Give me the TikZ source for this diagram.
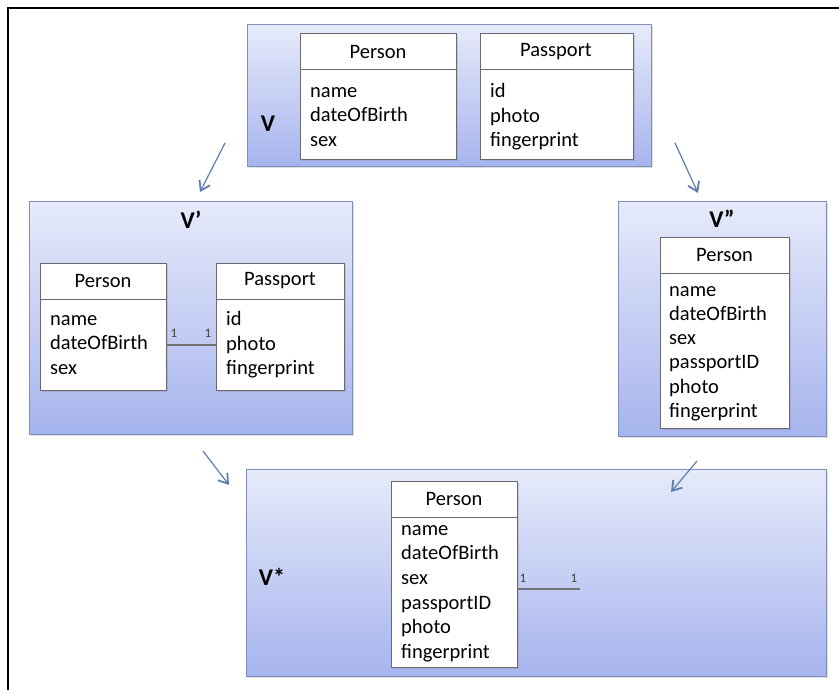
\documentclass[tikz,border=0pt]{standalone}
\usepackage{fontspec}
\setmainfont{Carlito}
\usetikzlibrary{arrows.meta,shadows}
\definecolor{pkgtop}{RGB}{230,234,250}
\definecolor{pkgbot}{RGB}{166,180,238}
\definecolor{pkgborder}{RGB}{128,142,188}
\definecolor{clsborder}{RGB}{105,105,110}
\definecolor{arrowcol}{RGB}{95,125,175}
\begin{document}
\begin{tikzpicture}[x=1pt,y=-1pt,
  pkg/.style={draw=pkgborder, line width=1.2pt, top color=pkgtop, bottom color=pkgbot,
    anchor=north west, inner sep=0pt,
    drop shadow={shadow xshift=1.5pt, shadow yshift=-1.5pt, opacity=0.25}},
  cls/.style={draw=clsborder, fill=white, line width=1pt, anchor=north west, inner sep=0pt,
    drop shadow={shadow xshift=1.2pt, shadow yshift=-1.2pt, opacity=0.25}},
  divider/.style={draw=clsborder, line width=1pt},
  clsname/.style={font=\fontsize{20.5}{24}\selectfont, inner sep=0pt},
  attrs/.style={font=\fontsize{20.5}{24.5}\selectfont, align=left, anchor=west, inner sep=0pt},
  lbl/.style={font=\fontsize{24}{27}\selectfont\bfseries, inner sep=0pt},
  mult/.style={font=\fontsize{13}{14}\selectfont, text=black!75, inner sep=0pt},
  assoc/.style={draw=black!55, line width=1.2pt},
  flow/.style={draw=arrowcol, line width=1.2pt, -{Straight Barb[length=9pt,width=12pt,line width=1.8pt]}}
]
\useasboundingbox (0,0) rectangle (839,690);
\draw[line width=1.6pt] (8,690) -- (8,8) -- (839,8);

% ---------- V ----------
\node[pkg, minimum width=404pt, minimum height=142pt] (V) at (247,24) {};
\node[lbl] (Vl) at (268,124) {V};
\node[cls, minimum width=156pt, minimum height=126pt] (VP) at (300,33) {};
\draw[divider] (300,70) -- (456,70);
\node[clsname] (VPn) at (378,52) {Person};
\node[attrs] (VPa) at (310,117) {name\\dateOfBirth\\sex};
\node[cls, minimum width=153pt, minimum height=126pt] (VS) at (480,33) {};
\draw[divider] (480,70) -- (633,70);
\node[clsname] (VSn) at (556,52) {Passport};
\node[attrs] (VSa) at (490,117) {id\\photo\\fingerprint};

% ---------- V' ----------
\node[pkg, minimum width=323pt, minimum height=233pt] (V1) at (29,201) {};
\node[lbl] (V1l) at (191,220) {V’};
\node[cls, minimum width=126pt, minimum height=127pt] (P1) at (40,263) {};
\draw[divider] (40,299) -- (166,299);
\node[clsname] (P1n) at (103,281) {Person};
\node[attrs] (P1a) at (50,345) {name\\dateOfBirth\\sex};
\node[cls, minimum width=128pt, minimum height=127pt] (S1) at (216,263) {};
\draw[divider] (216,299) -- (344,299);
\node[clsname] (S1n) at (280,281) {Passport};
\node[attrs] (S1a) at (226,345) {id\\photo\\fingerprint};
\draw[assoc] (P1.east |- 0,345) -- (S1.west |- 0,345);
\node[mult] (m1) at (174,333) {1};
\node[mult] (m2) at (208,333) {1};

% ---------- V'' ----------
\node[pkg, minimum width=208pt, minimum height=235pt] (V2) at (618,201) {};
\node[lbl] (V2l) at (722,219) {V”};
\node[cls, minimum width=129pt, minimum height=191pt] (P2) at (660,237) {};
\draw[divider] (660,273) -- (789,273);
\node[clsname] (P2n) at (724.5,255) {Person};
\node[attrs, font=\fontsize{20.5}{24.2}\selectfont] (P2a) at (669,353.5) {name\\dateOfBirth\\sex\\passportID\\photo\\fingerprint};

% ---------- V* ----------
\node[pkg, minimum width=580pt, minimum height=207pt] (V3) at (246,469) {};
\node[lbl] (V3l) at (272,577) {V*};
\node[cls, minimum width=126pt, minimum height=186pt] (P3) at (391,481) {};
\draw[divider] (391,517) -- (517,517);
\node[clsname] (P3n) at (454,499) {Person};
\node[attrs, font=\fontsize{20.5}{24.6}\selectfont] (P3a) at (401,593.5) {name\\dateOfBirth\\sex\\passportID\\photo\\fingerprint};
\coordinate (free) at (580,589);
\draw[assoc] (P3.east |- free) -- (free);
\node[mult] (m3) at (523,578) {1};
\node[mult] (m4) at (574,578) {1};

% ---------- arrows ----------
\coordinate (a1s) at (225,143); \coordinate (a1e) at (200,192);
\coordinate (a2s) at (675,143); \coordinate (a2e) at (698,193);
\coordinate (a3s) at (203,451); \coordinate (a3e) at (229,485);
\coordinate (a4s) at (697,461); \coordinate (a4e) at (671,492);
\draw[flow] (a1s) -- (a1e);
\draw[flow] (a2s) -- (a2e);
\draw[flow] (a3s) -- (a3e);
\draw[flow] (a4s) -- (a4e);
\end{tikzpicture}
\end{document}
